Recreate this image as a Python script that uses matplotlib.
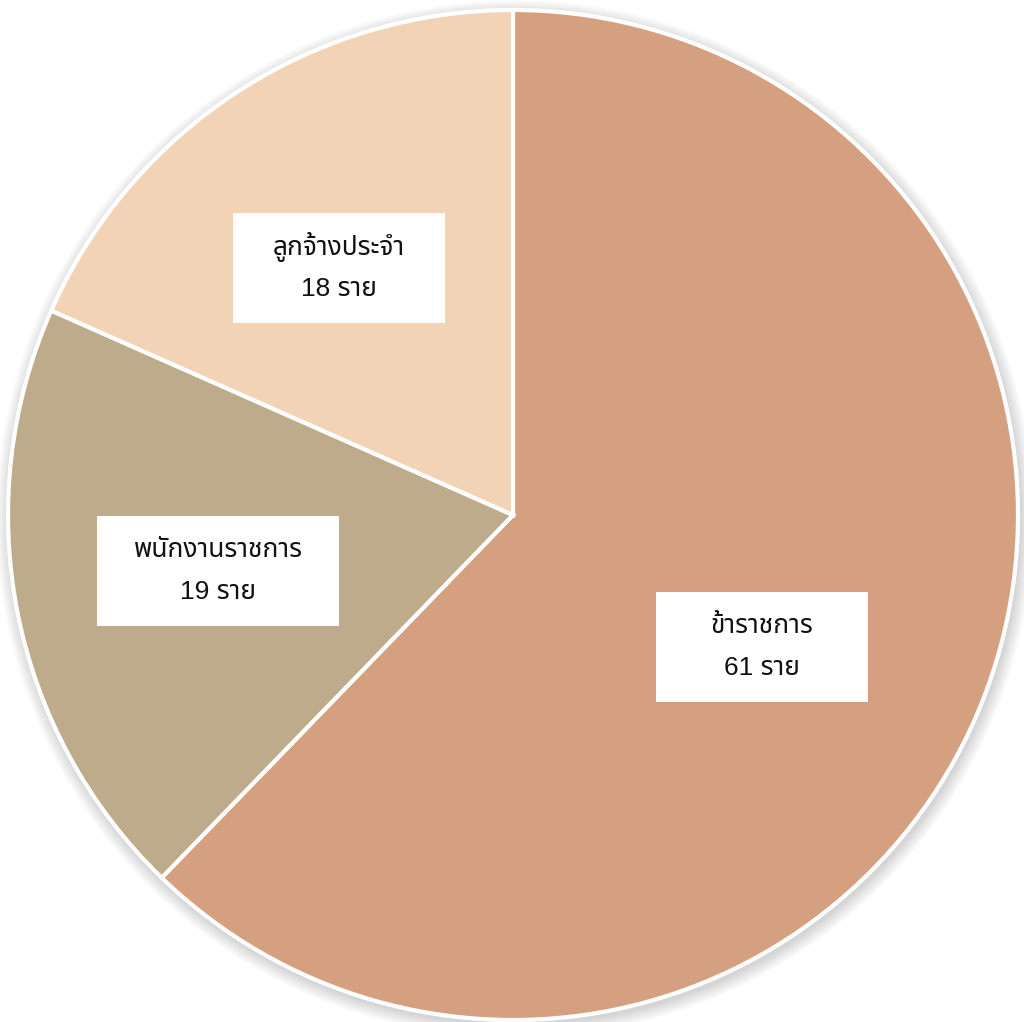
import matplotlib
matplotlib.use('Agg')
import matplotlib.pyplot as plt
from matplotlib.patches import Circle, Rectangle

# data
labels = ['ข้าราชการ', 'พนักงานราชการ', 'ลูกจ้างประจำ']
values = [61, 19, 18]
unit = 'ราย'

colors = ['#D5A080', '#BEAB8B', '#F3D3B6']
# label box centres and sizes (pixels, y from bottom)
box_pos = [(762, 1022 - 647), (218, 1022 - 571), (339, 1022 - 268)]
box_size = [(212, 110), (242, 110), (212, 110)]
fam = ['Liberation Sans', 'Noto Sans Thai', 'DejaVu Sans']

W, H = 1024, 1022
cx, cy, r = 513, 1022 - 515, 505

fig = plt.figure(figsize=(W / 100, H / 100), dpi=100)
ax = fig.add_axes([0, 0, 1, 1])

# soft shadow
for i in range(14):
    ax.add_patch(Circle((cx + 2, cy - 4), r + 14 - i, color='black', alpha=0.012, lw=0, zorder=0))

wedges, _ = ax.pie(values, colors=colors, startangle=90, counterclock=False,
                   center=(cx, cy), radius=r, frame=True,
                   wedgeprops=dict(edgecolor='white', linewidth=3))
ax.set_xlim(0, W)
ax.set_ylim(0, H)
ax.axis('off')

for lab, v, (x, y), (bw, bh) in zip(labels, values, box_pos, box_size):
    ax.add_patch(Rectangle((x - bw / 2, y - bh / 2), bw, bh, facecolor='white', edgecolor='none', zorder=3))
    ax.text(x, y + 21, lab, ha='center', va='center', fontsize=19,
            family=fam, color='#111111', zorder=4)
    ax.text(x, y - 21, f'{v} {unit}', ha='center', va='center', fontsize=19,
            family=fam, color='#111111', zorder=4)

fig.savefig('out.png', dpi=100)
